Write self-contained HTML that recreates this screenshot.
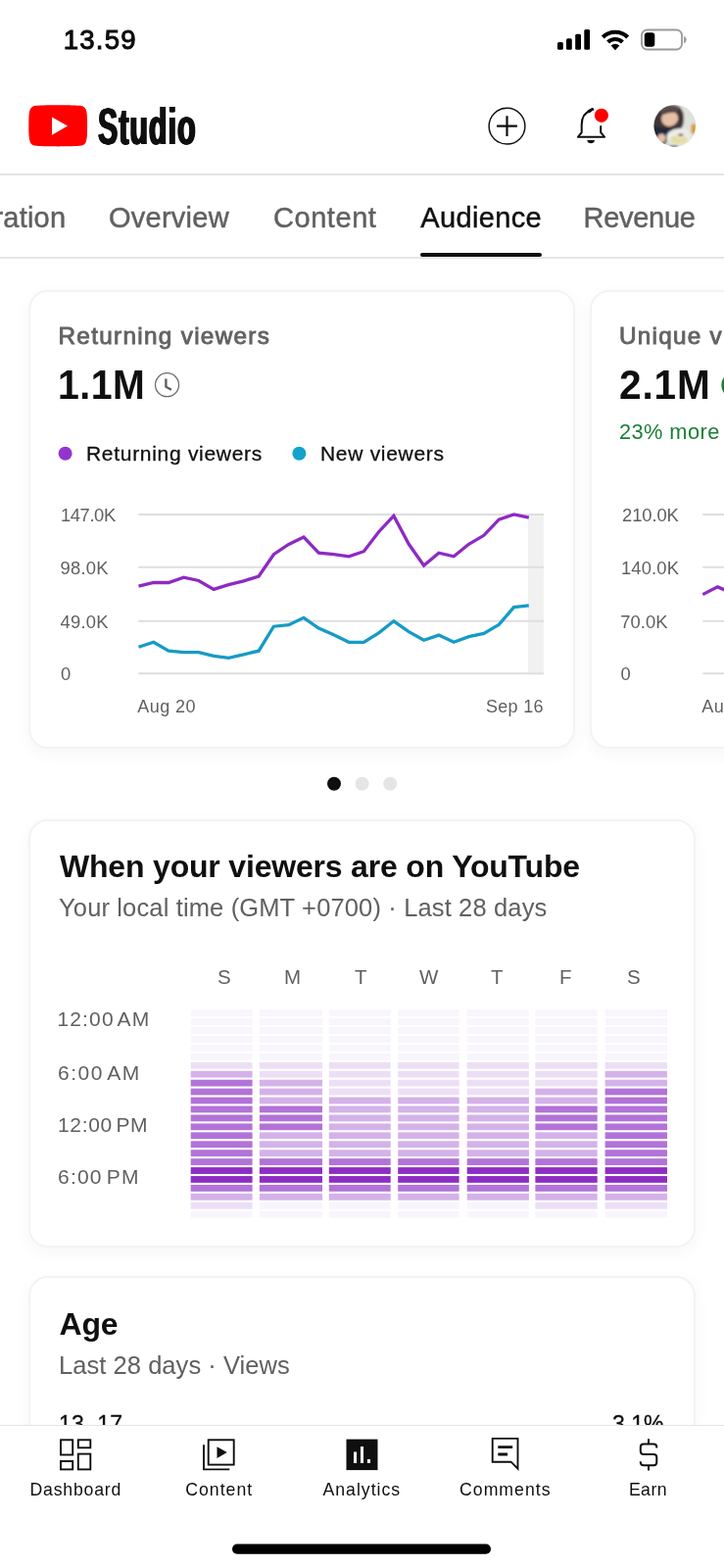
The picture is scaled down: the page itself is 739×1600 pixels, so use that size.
<!DOCTYPE html>
<html lang="en">
<head>
<meta charset="utf-8">
<title>YouTube Studio - Audience</title>
<style>
*{box-sizing:border-box;margin:0;padding:0}
html,body{width:739px;height:1600px;overflow:hidden;background:#fff}
body{position:relative;font-family:"Liberation Sans",sans-serif;color:#0f0f0f}
.t{position:absolute;white-space:nowrap;line-height:1;transform-origin:0 0}
.g{color:#606060}
.b{font-weight:bold}
.card{position:absolute;background:#fff;border:2px solid #f3f3f3;border-radius:20px;box-shadow:0 5px 18px rgba(0,0,0,.04)}
.hl{position:absolute;left:0;width:739px;height:2px;background:#e5e5e5}
svg{position:absolute;left:0;top:0;overflow:visible}
</style>
</head>
<body>

<!-- status bar -->
<div class="t b" id="time" style="left:64.7px;top:27.0px;font-size:27.6px;letter-spacing:1.20px;font-weight:normal;-webkit-text-stroke:0.9px #000">13.59</div>

<!-- header -->
<div class="t b" id="studio" style="left:100.3px;top:103px;font-size:52px;transform:scaleX(.583);letter-spacing:1.8px;text-shadow:0.8px 0 0 #0f0f0f,-0.8px 0 0 #0f0f0f,1.5px 0 0 #0f0f0f,-1.5px 0 0 #0f0f0f">Studio</div>
<div class="hl" style="top:177px"></div>

<!-- tabs -->
<div class="t g" id="tab0" style="left:-6.5px;top:207.5px;font-size:29px;letter-spacing:0.2px;-webkit-text-stroke:0.45px #606060">ration</div>
<div class="t g" id="tab1" style="left:111px;top:207.5px;font-size:29px;letter-spacing:0.25px;-webkit-text-stroke:0.45px #606060">Overview</div>
<div class="t g" id="tab2" style="left:279px;top:207.5px;font-size:29px;letter-spacing:0.55px;-webkit-text-stroke:0.45px #606060">Content</div>
<div class="t" id="tab3" style="left:429.3px;top:207.5px;font-size:29px;letter-spacing:0.35px;-webkit-text-stroke:0.45px #0f0f0f">Audience</div>
<div class="t g" id="tab4" style="left:595.5px;top:207.5px;font-size:29px;letter-spacing:-0.28px;-webkit-text-stroke:0.45px #606060">Revenue</div>
<div style="position:absolute;left:429px;top:258px;width:124px;height:4px;background:#0f0f0f;border-radius:2px"></div>
<div class="hl" style="top:262px"></div>

<!-- card 1 -->
<div class="card" style="left:29.3px;top:296.3px;width:557.5px;height:467.7px"></div>
<div class="t g" id="c1title" style="left:59.5px;top:331px;font-size:24.3px;letter-spacing:1.31px;font-weight:normal;color:#636363;-webkit-text-stroke:0.9px #636363">Returning viewers</div>
<div class="t b" id="c1val" style="left:58.5px;top:371.6px;font-size:42.3px;letter-spacing:0.47px;transform:scaleX(.93)">1.1M</div>
<div class="t" id="lg1" style="left:88px;top:452px;font-size:21px;letter-spacing:0.7px;-webkit-text-stroke:0.3px #0f0f0f">Returning viewers</div>
<div class="t" id="lg2" style="left:327px;top:452px;font-size:21px;letter-spacing:0.7px;-webkit-text-stroke:0.3px #0f0f0f">New viewers</div>
<div class="t g" id="y1" style="left:62px;top:516.7px;font-size:18.4px;letter-spacing:-0.42px">147.0K</div>
<div class="t g" id="y2" style="left:61.5px;top:570.8px;font-size:18.4px;letter-spacing:0.23px">98.0K</div>
<div class="t g" id="y3" style="left:61.5px;top:626.0px;font-size:18.4px;letter-spacing:0.23px">49.0K</div>
<div class="t g" id="y4" style="left:62px;top:679.3px;font-size:18.4px;letter-spacing:-0.2px">0</div>
<div class="t g" id="x1" style="left:140.3px;top:711.9px;font-size:18px;letter-spacing:0.44px">Aug 20</div>
<div class="t g" id="x2" style="left:496px;top:711.9px;font-size:18px;letter-spacing:0.30px">Sep 16</div>

<!-- card 2 -->
<div class="card" style="left:601.7px;top:296.3px;width:557.5px;height:467.7px"></div>
<div class="t g" id="c2title" style="left:632px;top:331px;font-size:24.3px;letter-spacing:1.25px;font-weight:normal;color:#636363;-webkit-text-stroke:0.9px #636363">Unique viewers</div>
<div class="t b" id="c2val" style="left:632.3px;top:371.6px;font-size:42.3px;letter-spacing:0.90px;transform:scaleX(.96)">2.1M</div>
<div class="t" id="c2more" style="left:632px;top:430.4px;font-size:21.8px;color:#1b7f36;letter-spacing:0.42px">23% more</div>
<div class="t" id="c2more2" style="left:741px;top:431.2px;font-size:21.8px;color:#1b7f36;letter-spacing:1.21px">than previous 28 days</div>
<div class="t g" id="z1" style="left:635px;top:517.2px;font-size:18.4px;letter-spacing:-0.10px">210.0K</div>
<div class="t g" id="z2" style="left:634px;top:571.3px;font-size:18.4px;letter-spacing:0.14px">140.0K</div>
<div class="t g" id="z3" style="left:633.2px;top:625.8px;font-size:18.4px;letter-spacing:0.09px">70.0K</div>
<div class="t g" id="z4" style="left:633.4px;top:679.1px;font-size:18.4px;letter-spacing:-0.2px">0</div>
<div class="t g" id="zx1" style="left:716.2px;top:711.9px;font-size:18px;letter-spacing:0.44px">Aug 20</div>

<!-- card 3 -->
<div class="card" style="left:29.3px;top:836px;width:681px;height:437px"></div>
<div class="t b" id="c3title" style="left:61px;top:868.3px;font-size:32px;letter-spacing:-0.19px">When your viewers are on YouTube</div>
<div class="t g" id="c3sub" style="left:60px;top:914.4px;font-size:25.5px;letter-spacing:0.14px">Your local time (GMT +0700) · Last 28 days</div>
<div class="t g" id="d0" style="left:221.9px;top:987.3px;font-size:20.5px">S</div>
<div class="t g" id="d1" style="left:289.9px;top:987.3px;font-size:20.5px">M</div>
<div class="t g" id="d2" style="left:361.9px;top:987.3px;font-size:20.5px">T</div>
<div class="t g" id="d3" style="left:427.9px;top:987.3px;font-size:20.5px">W</div>
<div class="t g" id="d4" style="left:500.9px;top:987.3px;font-size:20.5px">T</div>
<div class="t g" id="d5" style="left:570.9px;top:987.3px;font-size:20.5px">F</div>
<div class="t g" id="d6" style="left:639.9px;top:987.3px;font-size:20.5px">S</div>
<div class="t g" id="h0" style="left:58.5px;top:1029.3px;font-size:21px;letter-spacing:1.13px;word-spacing:-3px">12:00 AM</div>
<div class="t g" id="h1" style="left:59.0px;top:1084.2px;font-size:21px;letter-spacing:1.54px;word-spacing:-3px">6:00 AM</div>
<div class="t g" id="h2" style="left:59.0px;top:1137.3px;font-size:21px;letter-spacing:0.67px;word-spacing:-3px">12:00 PM</div>
<div class="t g" id="h3" style="left:59.0px;top:1190.1px;font-size:21px;letter-spacing:1.20px;word-spacing:-3px">6:00 PM</div>

<!-- card 4 -->
<div class="card" style="left:29.3px;top:1302.3px;width:681px;height:400px"></div>
<div class="t b" id="c4title" style="left:60.5px;top:1334.8px;font-size:32px;letter-spacing:-0.19px">Age</div>
<div class="t g" id="c4sub" style="left:60px;top:1381px;font-size:25.5px;letter-spacing:0.05px">Last 28 days · Views</div>
<div class="t" id="a1" style="left:60px;top:1441.5px;font-size:23px;letter-spacing:0.3px;-webkit-text-stroke:0.3px #0f0f0f">13–17</div>
<div class="t" id="a2" style="left:625px;top:1441.5px;font-size:23px;-webkit-text-stroke:0.3px #0f0f0f">3.1%</div>

<!-- main graphics -->
<svg width="739" height="1600" viewBox="0 0 739 1600">
  <!-- signal -->
  <g fill="#000">
    <rect x="569" y="43" width="5.8" height="7.8" rx="1.5"/>
    <rect x="578" y="39.2" width="5.8" height="11.6" rx="1.5"/>
    <rect x="587.2" y="34.8" width="5.8" height="16" rx="1.5"/>
    <rect x="596.3" y="30" width="5.8" height="20.8" rx="1.5"/>
  </g>
  <!-- wifi -->
  <g fill="none" stroke="#000" stroke-width="4.2" stroke-linecap="butt">
    <path d="M615.300 38 A18 18 0 0 1 640.700 38"/>
    <path d="M620.6 43 A10.6 10.6 0 0 1 635.4 43"/>
  </g>
  <path d="M628 51.2 L623.6 46.6 A6.2 6.2 0 0 1 632.4 46.6 Z" fill="#000"/>
  <!-- battery -->
  <rect x="655" y="30.5" width="41" height="20" rx="5.5" fill="none" stroke="#9a9a9a" stroke-width="1.8"/>
  <path d="M698 36.8 q2.8 1 2.8 3.7 q0 2.700 -2.800 3.700 z" fill="#a0a0a0"/>
  <rect x="657.8" y="33.2" width="10.500" height="14.600" rx="3" fill="#000"/>

  <!-- yt logo -->
  <path d="M29.300 128.300 C29.300 118 29.700 113.600 31 111.200 C32.300 108.900 34.100 108.100 37.200 107.800 C43 107.300 52 107.200 59.200 107.200 C66.400 107.200 75.400 107.300 81.200 107.800 C84.300 108.100 86.100 108.900 87.400 111.200 C88.700 113.600 89.100 118 89.100 128.300 C89.100 138.600 88.700 143 87.400 145.400 C86.100 147.700 84.300 148.500 81.200 148.800 C75.400 149.300 66.400 149.400 59.200 149.400 C52 149.400 43 149.300 37.200 148.800 C34.100 148.500 32.300 147.700 31 145.400 C29.700 143 29.300 138.600 29.300 128.300 Z" fill="#ff0000"/>
  <path d="M53 119.500 L69 128.500 L53 137.800 Z" fill="#fff"/>

  <!-- plus -->
  <circle cx="517.500" cy="128.700" r="18.400" fill="none" stroke="#0f0f0f" stroke-width="1.450"/>
  <path d="M517.500 118.300 V139.100 M507.100 128.700 H527.900" stroke="#0f0f0f" stroke-width="2.200" fill="none"/>
  <!-- bell -->
  <g fill="none" stroke="#0f0f0f" stroke-width="2" stroke-linecap="round" stroke-linejoin="round">
    <path d="M590 139.800 H617"/>
    <path d="M590.300 139.300 L593.700 135.200 V127.500 C593.700 119.500 597.500 114.500 603 113"/>
    <path d="M616.700 139.300 L613.200 135.200 V129"/>
  </g>
  <path d="M600.800 113.800 C602.500 112.800 603.500 111.500 604.800 111.500" stroke="#0f0f0f" stroke-width="3" stroke-linecap="round" fill="none"/>
  <path d="M599.300 143 H607 Q606.500 146.300 603.100 146.300 Q599.800 146.300 599.300 143 Z" fill="#0f0f0f"/>
  <circle cx="613.900" cy="117.800" r="7.100" fill="#ff0000"/>

  <!-- avatar -->
  <defs>
    <clipPath id="av"><circle cx="688.800" cy="128.300" r="21.400"/></clipPath>
    <filter id="bl" x="-20%" y="-20%" width="140%" height="140%"><feGaussianBlur stdDeviation="0.9"/></filter>
  </defs>
  <g clip-path="url(#av)">
    <rect x="665" y="105" width="48" height="48" fill="#d6d6d2"/>
    <g filter="url(#bl)">
      <rect x="696" y="105" width="18" height="30" fill="#dfe1de"/>
      <path d="M666 132 C666 116 672 107.500 684 107.200 C694 107 698.500 112 698 122 C697.800 128 696 131 693 133 L670 138 Z" fill="#403638"/>
      <path d="M674 112 C680 107.500 691 107.500 696 111.500 C690 113 681 113.500 675 116 Z" fill="#5b504d"/>
      <ellipse cx="683.600" cy="121" rx="8.600" ry="7.800" transform="rotate(-15 683.600 121)" fill="#e8bfa7"/>
      <path d="M676 114.500 C680 112.500 687 112 692 113 L691.500 115 C687 114.500 681 115.300 677 117 Z" fill="#4a3f3e"/>
      <path d="M665 128 C670 129 678 131.500 684 131 C688 130.700 691 129.500 693 130 L694 134 L684 140 L674 152 H664 Z" fill="#20263a"/>
      <ellipse cx="675.300" cy="141" rx="4.300" ry="4.600" fill="#e6bfa6"/>
      <ellipse cx="693.300" cy="140" rx="13" ry="9" fill="#e9ede6"/>
      <ellipse cx="693" cy="142.500" rx="9" ry="4.600" fill="#e6dc9e"/>
      <ellipse cx="694.500" cy="138.500" rx="4.500" ry="2.300" fill="#f0e6e0"/>
      <ellipse cx="694.800" cy="137.800" rx="2.800" ry="1.300" fill="#9a4055"/>
      <rect x="705.500" y="126.500" width="5" height="9.500" rx="1.500" fill="#dd9a30"/>
      <ellipse cx="688" cy="150.500" rx="5" ry="2" fill="#20263a"/>
    </g>
  </g>

  <!-- clock -->
  <circle cx="170.550" cy="392.700" r="12" fill="none" stroke="#6a6a6a" stroke-width="1.250"/>
  <path d="M169.400 386.500 V394.700 L174.900 397.800" fill="none" stroke="#5a5a5a" stroke-width="2.300" stroke-linejoin="miter"/>

  <!-- legend dots -->
  <circle cx="66.600" cy="462.800" r="7" fill="#9334cf"/>
  <circle cx="305.400" cy="462.800" r="7" fill="#13a2cb"/>

  <!-- chart 1 -->
  <rect x="538.900" y="524" width="16" height="164.300" fill="#f1f1f1"/>
  <g stroke="#dedede" stroke-width="2">
    <path d="M141.300 525 H555 M141.300 578.700 H555 M141.300 633.800 H555 M141.300 687.300 H555"/>
  </g>
  <polyline points="141.5,598.1 156.8,594.5 172.1,594.5 187.5,589.2 202.8,592.5 218.1,601.4 233.4,596.6 248.7,592.8 264.1,588.0 279.4,565.7 294.7,555.5 310.0,548.1 325.3,564.2 340.7,565.7 356.0,567.8 371.3,562.7 386.6,542.7 401.9,526.4 417.3,555.3 432.6,577.0 447.9,564.2 463.2,567.8 478.5,555.3 493.9,546.3 509.2,530.2 524.5,524.9 539.8,528.2" fill="none" stroke="#8d2ac5" stroke-width="3.300" stroke-linejoin="miter"/>
  <polyline points="141.5,660.3 156.8,655.3 172.1,664.2 187.5,665.7 202.8,665.7 218.1,669.3 233.4,671.4 248.7,667.8 264.1,664.2 279.4,639.2 294.7,637.7 310.0,630.3 325.3,641.0 340.7,647.8 356.0,655.3 371.3,655.3 386.6,645.8 401.9,633.8 417.3,644.6 432.6,653.2 447.9,648.1 463.2,655.3 478.5,649.6 493.9,646.4 509.2,637.4 524.5,619.6 539.8,617.8" fill="none" stroke="#159bc5" stroke-width="3.300" stroke-linejoin="miter"/>

  <!-- chart 2 (partial) -->
  <g stroke="#dedede" stroke-width="2">
    <path d="M717.300 525 H760 M717.300 578.700 H760 M717.300 633.800 H760 M717.300 687.300 H760"/>
  </g>
  <polyline points="717.300,606.600 732.400,598.900 747,605" fill="none" stroke="#8d2ac5" stroke-width="3.300" stroke-linejoin="miter"/>
  <circle cx="750.500" cy="393" r="14.200" fill="#1b7f36"/>

  <!-- pager dots -->
  <circle cx="341" cy="799.700" r="7" fill="#0f0f0f"/>
  <circle cx="369.600" cy="799.700" r="7" fill="#e5e5e5"/>
  <circle cx="398.200" cy="799.700" r="7" fill="#e5e5e5"/>

  <!-- heatmap -->
  <rect x="194.7" y="1030.20" width="62.9" height="6.8" fill="#f9f5fc"/><rect x="194.7" y="1039.14" width="62.9" height="6.8" fill="#f9f5fc"/><rect x="194.7" y="1048.08" width="62.9" height="6.8" fill="#f9f5fc"/><rect x="194.7" y="1057.02" width="62.9" height="6.8" fill="#f9f5fc"/><rect x="194.7" y="1065.96" width="62.9" height="6.8" fill="#f9f5fc"/><rect x="194.7" y="1074.90" width="62.9" height="6.8" fill="#f9f5fc"/><rect x="194.7" y="1083.84" width="62.9" height="6.8" fill="#ecdff5"/><rect x="194.7" y="1092.78" width="62.9" height="6.8" fill="#d4b2e9"/><rect x="194.7" y="1101.72" width="62.9" height="6.8" fill="#b273d8"/><rect x="194.7" y="1110.66" width="62.9" height="6.8" fill="#b273d8"/><rect x="194.7" y="1119.60" width="62.9" height="6.8" fill="#b273d8"/><rect x="194.7" y="1128.54" width="62.9" height="6.8" fill="#b273d8"/><rect x="194.7" y="1137.48" width="62.9" height="6.8" fill="#b273d8"/><rect x="194.7" y="1146.42" width="62.9" height="6.8" fill="#b273d8"/><rect x="194.7" y="1155.36" width="62.9" height="6.8" fill="#b273d8"/><rect x="194.7" y="1164.30" width="62.9" height="6.8" fill="#b273d8"/><rect x="194.7" y="1173.24" width="62.9" height="6.8" fill="#b273d8"/><rect x="194.7" y="1182.18" width="62.9" height="6.8" fill="#b273d8"/><rect x="194.7" y="1191.12" width="62.9" height="6.8" fill="#8e2dc3"/><rect x="194.7" y="1200.06" width="62.9" height="6.8" fill="#8e2dc3"/><rect x="194.7" y="1209.00" width="62.9" height="6.8" fill="#b273d8"/><rect x="194.7" y="1217.94" width="62.9" height="6.8" fill="#d4b2e9"/><rect x="194.7" y="1226.88" width="62.9" height="6.8" fill="#ecdff5"/><rect x="194.7" y="1235.82" width="62.9" height="6.8" fill="#f9f5fc"/>
<rect x="264.9" y="1030.20" width="64.1" height="6.8" fill="#f9f5fc"/><rect x="264.9" y="1039.14" width="64.1" height="6.8" fill="#f9f5fc"/><rect x="264.9" y="1048.08" width="64.1" height="6.8" fill="#f9f5fc"/><rect x="264.9" y="1057.02" width="64.1" height="6.8" fill="#f9f5fc"/><rect x="264.9" y="1065.96" width="64.1" height="6.8" fill="#f9f5fc"/><rect x="264.9" y="1074.90" width="64.1" height="6.8" fill="#f9f5fc"/><rect x="264.9" y="1083.84" width="64.1" height="6.8" fill="#ecdff5"/><rect x="264.9" y="1092.78" width="64.1" height="6.8" fill="#ecdff5"/><rect x="264.9" y="1101.72" width="64.1" height="6.8" fill="#d4b2e9"/><rect x="264.9" y="1110.66" width="64.1" height="6.8" fill="#d4b2e9"/><rect x="264.9" y="1119.60" width="64.1" height="6.8" fill="#d4b2e9"/><rect x="264.9" y="1128.54" width="64.1" height="6.8" fill="#b273d8"/><rect x="264.9" y="1137.48" width="64.1" height="6.8" fill="#b273d8"/><rect x="264.9" y="1146.42" width="64.1" height="6.8" fill="#b273d8"/><rect x="264.9" y="1155.36" width="64.1" height="6.8" fill="#d4b2e9"/><rect x="264.9" y="1164.30" width="64.1" height="6.8" fill="#d4b2e9"/><rect x="264.9" y="1173.24" width="64.1" height="6.8" fill="#d4b2e9"/><rect x="264.9" y="1182.18" width="64.1" height="6.8" fill="#b273d8"/><rect x="264.9" y="1191.12" width="64.1" height="6.8" fill="#8e2dc3"/><rect x="264.9" y="1200.06" width="64.1" height="6.8" fill="#8e2dc3"/><rect x="264.9" y="1209.00" width="64.1" height="6.8" fill="#b273d8"/><rect x="264.9" y="1217.94" width="64.1" height="6.8" fill="#d4b2e9"/><rect x="264.9" y="1226.88" width="64.1" height="6.8" fill="#f9f5fc"/><rect x="264.9" y="1235.82" width="64.1" height="6.8" fill="#f9f5fc"/>
<rect x="335.8" y="1030.20" width="62.9" height="6.8" fill="#f9f5fc"/><rect x="335.8" y="1039.14" width="62.9" height="6.8" fill="#f9f5fc"/><rect x="335.8" y="1048.08" width="62.9" height="6.8" fill="#f9f5fc"/><rect x="335.8" y="1057.02" width="62.9" height="6.8" fill="#f9f5fc"/><rect x="335.8" y="1065.96" width="62.9" height="6.8" fill="#f9f5fc"/><rect x="335.8" y="1074.90" width="62.9" height="6.8" fill="#f9f5fc"/><rect x="335.8" y="1083.84" width="62.9" height="6.8" fill="#ecdff5"/><rect x="335.8" y="1092.78" width="62.9" height="6.8" fill="#ecdff5"/><rect x="335.8" y="1101.72" width="62.9" height="6.8" fill="#ecdff5"/><rect x="335.8" y="1110.66" width="62.9" height="6.8" fill="#ecdff5"/><rect x="335.8" y="1119.60" width="62.9" height="6.8" fill="#d4b2e9"/><rect x="335.8" y="1128.54" width="62.9" height="6.8" fill="#d4b2e9"/><rect x="335.8" y="1137.48" width="62.9" height="6.8" fill="#d4b2e9"/><rect x="335.8" y="1146.42" width="62.9" height="6.8" fill="#d4b2e9"/><rect x="335.8" y="1155.36" width="62.9" height="6.8" fill="#d4b2e9"/><rect x="335.8" y="1164.30" width="62.9" height="6.8" fill="#d4b2e9"/><rect x="335.8" y="1173.24" width="62.9" height="6.8" fill="#d4b2e9"/><rect x="335.8" y="1182.18" width="62.9" height="6.8" fill="#b273d8"/><rect x="335.8" y="1191.12" width="62.9" height="6.8" fill="#8e2dc3"/><rect x="335.8" y="1200.06" width="62.9" height="6.8" fill="#8e2dc3"/><rect x="335.8" y="1209.00" width="62.9" height="6.8" fill="#b273d8"/><rect x="335.8" y="1217.94" width="62.9" height="6.8" fill="#d4b2e9"/><rect x="335.8" y="1226.88" width="62.9" height="6.8" fill="#f9f5fc"/><rect x="335.8" y="1235.82" width="62.9" height="6.8" fill="#f9f5fc"/>
<rect x="406.2" y="1030.20" width="62.4" height="6.8" fill="#f9f5fc"/><rect x="406.2" y="1039.14" width="62.4" height="6.8" fill="#f9f5fc"/><rect x="406.2" y="1048.08" width="62.4" height="6.8" fill="#f9f5fc"/><rect x="406.2" y="1057.02" width="62.4" height="6.8" fill="#f9f5fc"/><rect x="406.2" y="1065.96" width="62.4" height="6.8" fill="#f9f5fc"/><rect x="406.2" y="1074.90" width="62.4" height="6.8" fill="#f9f5fc"/><rect x="406.2" y="1083.84" width="62.4" height="6.8" fill="#ecdff5"/><rect x="406.2" y="1092.78" width="62.4" height="6.8" fill="#ecdff5"/><rect x="406.2" y="1101.72" width="62.4" height="6.8" fill="#ecdff5"/><rect x="406.2" y="1110.66" width="62.4" height="6.8" fill="#ecdff5"/><rect x="406.2" y="1119.60" width="62.4" height="6.8" fill="#d4b2e9"/><rect x="406.2" y="1128.54" width="62.4" height="6.8" fill="#d4b2e9"/><rect x="406.2" y="1137.48" width="62.4" height="6.8" fill="#d4b2e9"/><rect x="406.2" y="1146.42" width="62.4" height="6.8" fill="#d4b2e9"/><rect x="406.2" y="1155.36" width="62.4" height="6.8" fill="#d4b2e9"/><rect x="406.2" y="1164.30" width="62.4" height="6.8" fill="#d4b2e9"/><rect x="406.2" y="1173.24" width="62.4" height="6.8" fill="#d4b2e9"/><rect x="406.2" y="1182.18" width="62.4" height="6.8" fill="#b273d8"/><rect x="406.2" y="1191.12" width="62.4" height="6.8" fill="#8e2dc3"/><rect x="406.2" y="1200.06" width="62.4" height="6.8" fill="#8e2dc3"/><rect x="406.2" y="1209.00" width="62.4" height="6.8" fill="#b273d8"/><rect x="406.2" y="1217.94" width="62.4" height="6.8" fill="#d4b2e9"/><rect x="406.2" y="1226.88" width="62.4" height="6.8" fill="#f9f5fc"/><rect x="406.2" y="1235.82" width="62.4" height="6.8" fill="#f9f5fc"/>
<rect x="476.7" y="1030.20" width="63.2" height="6.8" fill="#f9f5fc"/><rect x="476.7" y="1039.14" width="63.2" height="6.8" fill="#f9f5fc"/><rect x="476.7" y="1048.08" width="63.2" height="6.8" fill="#f9f5fc"/><rect x="476.7" y="1057.02" width="63.2" height="6.8" fill="#f9f5fc"/><rect x="476.7" y="1065.96" width="63.2" height="6.8" fill="#f9f5fc"/><rect x="476.7" y="1074.90" width="63.2" height="6.8" fill="#f9f5fc"/><rect x="476.7" y="1083.84" width="63.2" height="6.8" fill="#ecdff5"/><rect x="476.7" y="1092.78" width="63.2" height="6.8" fill="#ecdff5"/><rect x="476.7" y="1101.72" width="63.2" height="6.8" fill="#ecdff5"/><rect x="476.7" y="1110.66" width="63.2" height="6.8" fill="#ecdff5"/><rect x="476.7" y="1119.60" width="63.2" height="6.8" fill="#d4b2e9"/><rect x="476.7" y="1128.54" width="63.2" height="6.8" fill="#d4b2e9"/><rect x="476.7" y="1137.48" width="63.2" height="6.8" fill="#d4b2e9"/><rect x="476.7" y="1146.42" width="63.2" height="6.8" fill="#d4b2e9"/><rect x="476.7" y="1155.36" width="63.2" height="6.8" fill="#d4b2e9"/><rect x="476.7" y="1164.30" width="63.2" height="6.8" fill="#d4b2e9"/><rect x="476.7" y="1173.24" width="63.2" height="6.8" fill="#d4b2e9"/><rect x="476.7" y="1182.18" width="63.2" height="6.8" fill="#b273d8"/><rect x="476.7" y="1191.12" width="63.2" height="6.8" fill="#8e2dc3"/><rect x="476.7" y="1200.06" width="63.2" height="6.8" fill="#8e2dc3"/><rect x="476.7" y="1209.00" width="63.2" height="6.8" fill="#b273d8"/><rect x="476.7" y="1217.94" width="63.2" height="6.8" fill="#d4b2e9"/><rect x="476.7" y="1226.88" width="63.2" height="6.8" fill="#f9f5fc"/><rect x="476.7" y="1235.82" width="63.2" height="6.8" fill="#f9f5fc"/>
<rect x="546.4" y="1030.20" width="63.3" height="6.8" fill="#f9f5fc"/><rect x="546.4" y="1039.14" width="63.3" height="6.8" fill="#f9f5fc"/><rect x="546.4" y="1048.08" width="63.3" height="6.8" fill="#f9f5fc"/><rect x="546.4" y="1057.02" width="63.3" height="6.8" fill="#f9f5fc"/><rect x="546.4" y="1065.96" width="63.3" height="6.8" fill="#f9f5fc"/><rect x="546.4" y="1074.90" width="63.3" height="6.8" fill="#f9f5fc"/><rect x="546.4" y="1083.84" width="63.3" height="6.8" fill="#ecdff5"/><rect x="546.4" y="1092.78" width="63.3" height="6.8" fill="#ecdff5"/><rect x="546.4" y="1101.72" width="63.3" height="6.8" fill="#ecdff5"/><rect x="546.4" y="1110.66" width="63.3" height="6.8" fill="#d4b2e9"/><rect x="546.4" y="1119.60" width="63.3" height="6.8" fill="#d4b2e9"/><rect x="546.4" y="1128.54" width="63.3" height="6.8" fill="#b273d8"/><rect x="546.4" y="1137.48" width="63.3" height="6.8" fill="#b273d8"/><rect x="546.4" y="1146.42" width="63.3" height="6.8" fill="#b273d8"/><rect x="546.4" y="1155.36" width="63.3" height="6.8" fill="#d4b2e9"/><rect x="546.4" y="1164.30" width="63.3" height="6.8" fill="#d4b2e9"/><rect x="546.4" y="1173.24" width="63.3" height="6.8" fill="#d4b2e9"/><rect x="546.4" y="1182.18" width="63.3" height="6.8" fill="#b273d8"/><rect x="546.4" y="1191.12" width="63.3" height="6.8" fill="#8e2dc3"/><rect x="546.4" y="1200.06" width="63.3" height="6.8" fill="#8e2dc3"/><rect x="546.4" y="1209.00" width="63.3" height="6.8" fill="#b273d8"/><rect x="546.4" y="1217.94" width="63.3" height="6.8" fill="#d4b2e9"/><rect x="546.4" y="1226.88" width="63.3" height="6.8" fill="#ecdff5"/><rect x="546.4" y="1235.82" width="63.3" height="6.8" fill="#f9f5fc"/>
<rect x="617.6" y="1030.20" width="63.4" height="6.8" fill="#f9f5fc"/><rect x="617.6" y="1039.14" width="63.4" height="6.8" fill="#f9f5fc"/><rect x="617.6" y="1048.08" width="63.4" height="6.8" fill="#f9f5fc"/><rect x="617.6" y="1057.02" width="63.4" height="6.8" fill="#f9f5fc"/><rect x="617.6" y="1065.96" width="63.4" height="6.8" fill="#f9f5fc"/><rect x="617.6" y="1074.90" width="63.4" height="6.8" fill="#f9f5fc"/><rect x="617.6" y="1083.84" width="63.4" height="6.8" fill="#ecdff5"/><rect x="617.6" y="1092.78" width="63.4" height="6.8" fill="#d4b2e9"/><rect x="617.6" y="1101.72" width="63.4" height="6.8" fill="#d4b2e9"/><rect x="617.6" y="1110.66" width="63.4" height="6.8" fill="#b273d8"/><rect x="617.6" y="1119.60" width="63.4" height="6.8" fill="#b273d8"/><rect x="617.6" y="1128.54" width="63.4" height="6.8" fill="#b273d8"/><rect x="617.6" y="1137.48" width="63.4" height="6.8" fill="#b273d8"/><rect x="617.6" y="1146.42" width="63.4" height="6.8" fill="#b273d8"/><rect x="617.6" y="1155.36" width="63.4" height="6.8" fill="#b273d8"/><rect x="617.6" y="1164.30" width="63.4" height="6.8" fill="#b273d8"/><rect x="617.6" y="1173.24" width="63.4" height="6.8" fill="#b273d8"/><rect x="617.6" y="1182.18" width="63.4" height="6.8" fill="#b273d8"/><rect x="617.6" y="1191.12" width="63.4" height="6.8" fill="#8e2dc3"/><rect x="617.6" y="1200.06" width="63.4" height="6.8" fill="#8e2dc3"/><rect x="617.6" y="1209.00" width="63.4" height="6.8" fill="#b273d8"/><rect x="617.6" y="1217.94" width="63.4" height="6.8" fill="#d4b2e9"/><rect x="617.6" y="1226.88" width="63.4" height="6.8" fill="#ecdff5"/><rect x="617.6" y="1235.82" width="63.4" height="6.8" fill="#f9f5fc"/>

</svg>

<!-- bottom nav -->
<div style="position:absolute;left:0;top:1454px;width:739px;height:146px;background:#fff;border-top:1.5px solid #e3e3e3"></div>
<div class="t" id="n0" style="left:30.5px;top:1512.2px;font-size:17.7px;letter-spacing:0.79px">Dashboard</div>
<div class="t" id="n1" style="left:189.3px;top:1512.2px;font-size:17.7px;letter-spacing:0.98px">Content</div>
<div class="t" id="n2" style="left:329.5px;top:1512.2px;font-size:17.7px;letter-spacing:0.98px">Analytics</div>
<div class="t" id="n3" style="left:469.0px;top:1512.2px;font-size:17.7px;letter-spacing:1.01px">Comments</div>
<div class="t" id="n4" style="left:641.9px;top:1512.2px;font-size:17.7px;letter-spacing:0.43px">Earn</div>
<svg width="739" height="1600" viewBox="0 0 739 1600">
  <g fill="none" stroke="#0f0f0f" stroke-width="1.900">
    <!-- dashboard -->
    <rect x="62" y="1469.300" width="12.200" height="15.200"/>
    <rect x="79.800" y="1469.300" width="12.500" height="8"/>
    <rect x="62" y="1491" width="12.200" height="8.400"/>
    <rect x="79.800" y="1483.600" width="12.500" height="15.800"/>
    <!-- content -->
    <rect x="212.700" y="1469.300" width="26" height="25.300"/>
    <path d="M208 1474.300 V1499.400 H234.300"/>
    <!-- comments -->
    <path d="M502.700 1467.900 H528.500 V1498.600 L521.600 1491.700 H502.700 Z" stroke-linejoin="miter"/>
    <!-- earn -->
    <path d="M670.300 1477.500 V1476.700 Q670.300 1473.500 667.100 1473.500 H657 Q653.800 1473.500 653.800 1476.700 V1480.700 Q653.800 1483.900 657 1483.900 H667.100 Q670.300 1483.900 670.300 1487.100 V1492 Q670.300 1495.200 667.100 1495.200 H657 Q653.800 1495.200 653.800 1492 V1491.200 M662 1468.200 V1473.500 M662 1495.200 V1500.500" stroke-width="2"/>
  </g>
  <path d="M221.500 1476.200 L231.800 1482 L221.500 1488 Z" fill="#0f0f0f"/>
  <path d="M508.300 1476.700 H523.200 M508.300 1484 H518.100" stroke="#0f0f0f" stroke-width="2.800" fill="none"/>
  <!-- analytics -->
  <rect x="353.500" y="1468.600" width="32" height="31.500" fill="#0f0f0f"/>
  <path d="M362.500 1493 V1481.500 M369.500 1493 V1476 M376.500 1493 V1489" stroke="#fff" stroke-width="3" fill="none"/>
  <!-- home indicator -->
  <rect x="237" y="1575.600" width="264" height="10.200" rx="5.100" fill="#000"/>
</svg>
</body>
</html>
